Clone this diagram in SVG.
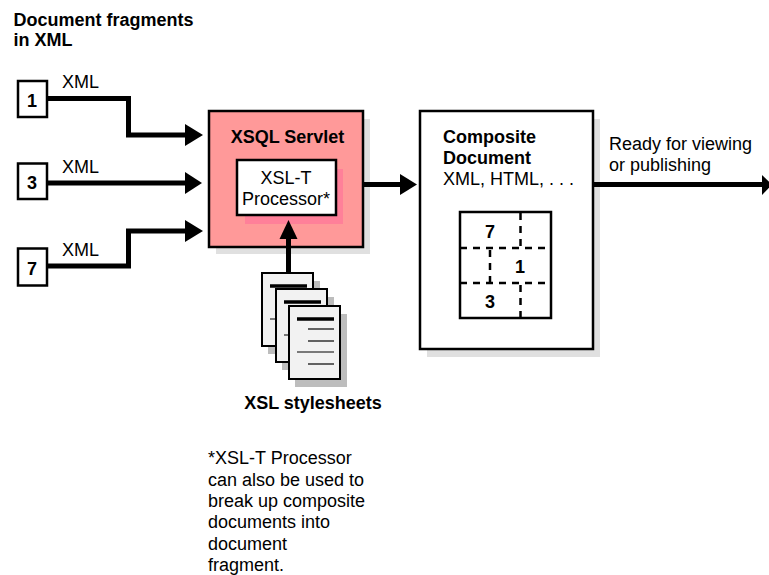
<svg xmlns="http://www.w3.org/2000/svg" width="769" height="575" viewBox="0 0 769 575">
<style>
text{font-family:"Liberation Sans",Arial,sans-serif;font-size:18px;fill:#000}
.b{font-weight:bold}
.num{font-weight:bold;text-anchor:middle}
.box{fill:#fff;stroke:#000;stroke-width:2.5}
.shadow{fill:#e0e0e0}
.wire{fill:none;stroke:#000;stroke-width:5}
.doc{fill:#f2f2f2;stroke:#000;stroke-width:2}
.docshadow{fill:#bdbdbd}
.rule{stroke:#000;stroke-width:1.2}
.head{stroke:#000;stroke-width:3.5}
.dash{fill:none;stroke:#000;stroke-width:2.5;stroke-dasharray:7 6}
</style>
<defs>
<g id="page">
<rect class="docshadow" x="6" y="8" width="52" height="73"/>
<rect class="doc" x="0" y="0" width="51" height="73"/>
<line class="head" x1="8" y1="13" x2="45" y2="13"/>
<line class="rule" x1="19" y1="23" x2="45" y2="23"/>
<line class="rule" x1="19" y1="35" x2="45" y2="35"/>
<line class="rule" x1="8" y1="46" x2="45" y2="46"/>
<line class="rule" x1="19" y1="58" x2="45" y2="58"/>
</g>
</defs>
<rect width="769" height="575" fill="#fff"/>
<text class="b" x="13.500" y="25.500">Document fragments</text>
<text class="b" x="13.500" y="45.500">in XML</text>

<g id="servlet">
<rect class="shadow" x="216" y="119" width="154" height="135"/>
<rect x="209" y="111" width="154" height="136" fill="#ff9999" stroke="#000" stroke-width="2.5"/>
<rect x="245" y="169" width="98" height="55" fill="#ff8099"/>
<text class="b" x="287.500" y="143" text-anchor="middle">XSQL Servlet</text>
</g>
<g id="processor">
<rect class="box" x="237" y="160" width="99" height="55"/>
<text x="286" y="183.500" text-anchor="middle">XSL-T</text>
<text x="286" y="204.500" text-anchor="middle">Processor*</text>
</g>
<g id="composite">
<rect class="shadow" x="427" y="119" width="173" height="238"/>
<rect class="box" x="420" y="111" width="173" height="238"/>
<text class="b" x="443" y="143">Composite</text>
<text class="b" x="443" y="164">Document</text>
<text x="443" y="185">XML, HTML, . . .</text>
<rect x="460" y="212" width="91" height="106" fill="#fff" stroke="#000" stroke-width="2.5"/>
<path class="dash" d="M520.500 213V247M460 248H551M490 250V282M460 283H551M520.500 285V318"/>
<text class="num" x="490" y="238">7</text>
<text class="num" x="520" y="273">1</text>
<text class="num" x="490" y="308">3</text>
</g>
<g id="stylesheets">
<use href="#page" x="262" y="273"/>
<use href="#page" x="276" y="289"/>
<use href="#page" x="289" y="306"/>
<text class="b" x="313" y="409" text-anchor="middle">XSL stylesheets</text>
</g>
<g id="fragment1">
<rect class="box" x="18" y="81" width="29" height="36"/>
<text class="num" x="32" y="107">1</text>
</g>
<g id="fragment3">
<rect class="box" x="18" y="163.500" width="29" height="35.500"/>
<text class="num" x="32" y="189">3</text>
</g>
<g id="fragment7">
<rect class="box" x="18" y="248.500" width="29" height="37"/>
<text class="num" x="32" y="275">7</text>
</g>
<g id="connectors">
<path class="wire" d="M47 98.500H128.500V135H188"/>
<path d="M185 124L203 135L185 146Z"/>
<path class="wire" d="M47 183H188"/>
<path d="M185 172L202 183L185 194Z"/>
<path class="wire" d="M47 266H128.500V231H188"/>
<path d="M185 220L203 231L185 242Z"/>
<path class="wire" d="M363 184.500H404"/>
<path d="M400 174L417 184.500L400 195Z"/>
<path class="wire" d="M288.500 273V236"/>
<path d="M279.500 239L288.500 220L297.500 239Z"/>
<path class="wire" d="M593 184.500H765"/>
<path d="M762 175L772 184.500L762 195Z"/>
</g>
<g id="labels">
<text x="62" y="88">XML</text>
<text x="62" y="172.500">XML</text>
<text x="62" y="256">XML</text>
<text x="609" y="149.500">Ready for viewing</text>
<text x="609" y="170.500">or publishing</text>
<text x="208" y="464">*XSL-T Processor</text>
<text x="208" y="485.500">can also be used to</text>
<text x="208" y="507">break up composite</text>
<text x="208" y="528">documents into</text>
<text x="208" y="550">document</text>
<text x="208" y="571">fragment.</text>
</g>
</svg>
